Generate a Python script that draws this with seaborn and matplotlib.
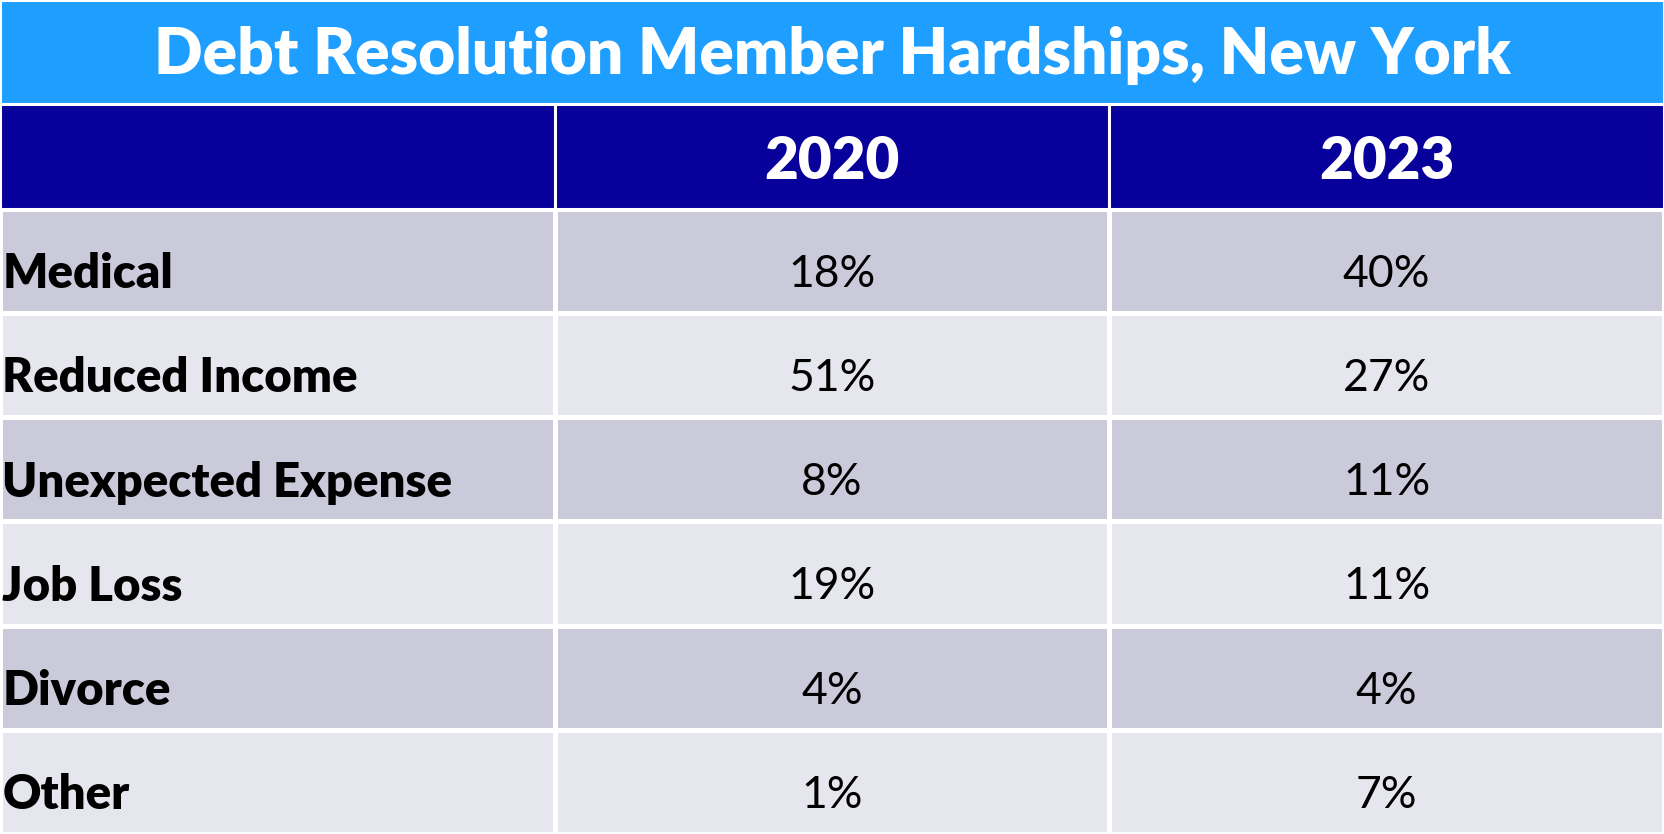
import matplotlib.pyplot as plt
import matplotlib.patches as mpatches
from matplotlib.colors import ListedColormap
import numpy as np
import seaborn as sb

title = 'Debt Resolution Member Hardships, New York'
years = ['2020', '2023']
categories = ['Medical', 'Reduced Income', 'Unexpected Expense', 'Job Loss', 'Divorce', 'Other']
share_2020 = [18, 51, 8, 19, 4, 1]
share_2023 = [40, 27, 11, 11, 4, 7]

plt.rcParams['font.family'] = 'Lato'

fig = plt.figure(figsize=(16.64, 8.34), dpi=100)
ax = fig.add_axes([0, 0, 1, 1])

# alternating row shading for the body cells
shade = np.array([[i % 2] * 3 for i in range(len(categories))])
cmap = ListedColormap(['#CBCADB', '#E6E6EF'])
sb.heatmap(shade, cmap=cmap, cbar=False, linewidths=2.2, linecolor='white', ax=ax)

ax.set_ylim(len(categories), -2)
ax.set_xlim(0, 3)
ax.axis('off')

# title bar and header row
ax.add_patch(mpatches.Rectangle((0, -2), 3, 1, facecolor='#1E9EFF', edgecolor='white', lw=2.2))
for c in range(3):
    ax.add_patch(mpatches.Rectangle((c, -1), 1, 1, facecolor='#08009A', edgecolor='white', lw=2.2))

ax.text(1.5, -1.47, title, ha='center', va='center', color='white', fontsize=46, fontweight='heavy')
for c, y in enumerate(years):
    ax.text(c + 1.5, -0.45, y, ha='center', va='center', color='white', fontsize=42, fontweight='heavy')

for r, (cat, a, b) in enumerate(zip(categories, share_2020, share_2023)):
    ax.text(0.004, r + 0.63, cat, ha='left', va='center', color='black', fontsize=34, fontweight='heavy')
    ax.text(1.5, r + 0.63, f'{a}%', ha='center', va='center', color='black', fontsize=32)
    ax.text(2.5, r + 0.63, f'{b}%', ha='center', va='center', color='black', fontsize=32)

fig.savefig('out.png', dpi=100)
